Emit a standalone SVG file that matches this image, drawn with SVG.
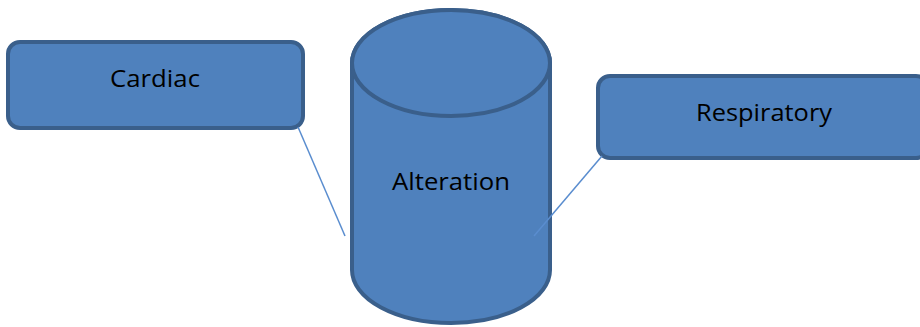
<svg xmlns="http://www.w3.org/2000/svg" width="920" height="327" viewBox="0 0 920 327">
<style>
.shape{fill:#4f81bd;stroke:#3a5f8b;stroke-width:4}
.lbl{font-family:"Open Sans","Liberation Sans",Arial,sans-serif;font-size:23px;fill:#000;text-anchor:middle}
.conn{stroke:#5a8dcf;stroke-width:1.5;fill:none}
</style>
<rect width="920" height="327" fill="#fff"/>
<g id="alteration">
<path class="shape" d="M352,63 L352,270 A99,53 0 0 0 550,270 L550,63 A99,53 0 0 0 352,63 Z"/>
<ellipse class="shape" cx="451" cy="63" rx="99" ry="53"/>
<text class="lbl" x="451" y="190" textLength="118" lengthAdjust="spacingAndGlyphs">Alteration</text>
</g>
<g id="cardiac">
<rect class="shape" x="8" y="42" width="295" height="86" rx="12"/>
<text class="lbl" x="155" y="87" textLength="90" lengthAdjust="spacingAndGlyphs">Cardiac</text>
</g>
<g id="respiratory">
<rect class="shape" x="598" y="76" width="330" height="82" rx="12"/>
<text class="lbl" x="764" y="121" textLength="136" lengthAdjust="spacingAndGlyphs">Respiratory</text>
</g>
<g id="connectors">
<line class="conn" x1="298" y1="127" x2="345" y2="236"/>
<line class="conn" x1="602" y1="156" x2="534" y2="236"/>
</g>
</svg>
